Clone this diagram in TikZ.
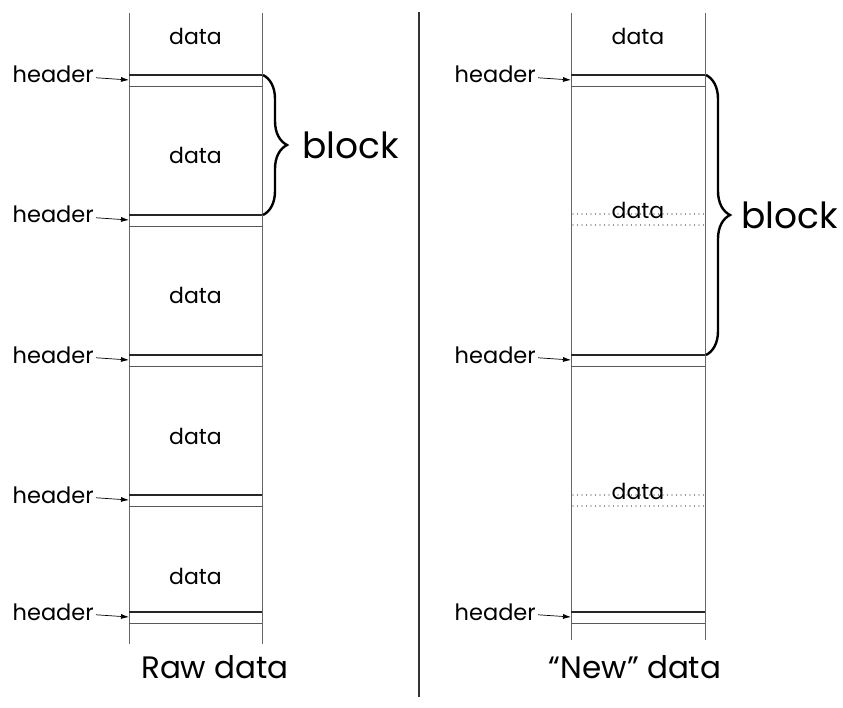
\documentclass[tikz,border=0pt]{standalone}
\usepackage{fontspec}
\setmainfont{Poppins}
\usetikzlibrary{decorations.pathreplacing,arrows.meta}
\begin{document}
\begin{tikzpicture}[x=1pt,y=-1pt,
  col/.style={draw=black!60, line width=0.9pt},
  hdrtop/.style={draw=black!85, line width=1.4pt},
  hdrbot/.style={draw=black!65, line width=0.9pt},
  dotl/.style={draw=black!85, line width=1.1pt, line cap=round, dash pattern=on 0pt off 4.5pt},
  hlbl/.style={font=\fontsize{22.5}{22.5}\selectfont, inner sep=0pt, anchor=base east},
  dlbl/.style={font=\fontsize{22}{22}\selectfont, inner sep=0pt, anchor=base},
  blklbl/.style={font=\fontsize{36}{36}\selectfont, inner sep=0pt},
  caplbl/.style={font=\fontsize{31}{31}\selectfont, inner sep=0pt},
  ptr/.style={-{Latex[length=8pt,width=5pt]}, line width=0.7pt},
  bracket/.style={decorate, decoration={brace, amplitude=24pt, aspect=0.5}, line width=2.4pt}]
\useasboundingbox (0,0) rectangle (843,708);

% ---------- left column ----------
\coordinate (LT) at (129,13);
\coordinate (LB) at (129,644);
\coordinate (RT) at (262,13);
\coordinate (RB) at (262,644);
\draw[col] (LT) -- (LB);
\draw[col] (RT) -- (RB);

\foreach \y/\n in {75/a,215/b,355/c,495/d,612/e}{
  \coordinate (la\n) at (129,\y);
  \coordinate (ra\n) at (262,\y);
  \coordinate (lb\n) at (129,\y+11.5);
  \coordinate (rb\n) at (262,\y+11.5);
  \coordinate (tip\n) at (129,\y+5);
  \draw[hdrtop] (la\n) -- (ra\n);
  \draw[hdrbot] (lb\n) -- (rb\n);
  \node[hlbl] (h\n) at (94,\y+8) {header};
  \draw[ptr] ([xshift=2pt,yshift=-3pt]h\n.east) -- (tip\n);
}

\node[dlbl] (d0) at (195.5,45) {data};
\node[dlbl] (d1) at (195.5,164) {data};
\node[dlbl] (d2) at (195.5,304) {data};
\node[dlbl] (d3) at (195.5,444) {data};
\node[dlbl] (d4) at (195.5,584) {data};

\coordinate (bra1) at (263,75);
\coordinate (brb1) at (263,215);
\draw[bracket] (bra1) -- (brb1);
\node[blklbl, anchor=west] (blk1) at (302,145) {block};

% ---------- divider ----------
\coordinate (DT) at (419,12);
\coordinate (DB) at (419,697);
\draw[draw=black!80, line width=1.1pt] (DT) -- (DB);

% ---------- right column ----------
\coordinate (LT2) at (571,13);
\coordinate (LB2) at (571,640);
\coordinate (RT2) at (705,13);
\coordinate (RB2) at (705,640);
\draw[col] (LT2) -- (LB2);
\draw[col] (RT2) -- (RB2);

\foreach \y/\n in {75/a,355/c,612/e}{
  \coordinate (La\n) at (571,\y);
  \coordinate (Ra\n) at (705,\y);
  \coordinate (Lb\n) at (571,\y+11.5);
  \coordinate (Rb\n) at (705,\y+11.5);
  \coordinate (Tip\n) at (571,\y+5);
  \draw[hdrtop] (La\n) -- (Ra\n);
  \draw[hdrbot] (Lb\n) -- (Rb\n);
  \node[hlbl] (H\n) at (536,\y+8) {header};
  \draw[ptr] ([xshift=2pt,yshift=-3pt]H\n.east) -- (Tip\n);
}

\foreach \y/\n in {214/b,495/d}{
  \coordinate (Ld\n) at (573,\y);
  \coordinate (Rd\n) at (705,\y);
  \coordinate (Le\n) at (573,\y+11);
  \coordinate (Re\n) at (705,\y+11);
  \draw[dotl] (Ld\n) -- (Rd\n);
  \draw[dotl] (Le\n) -- (Re\n);
}

\node[dlbl] (D0) at (638,45) {data};
\node[dlbl] (D1) at (638,219) {data};
\node[dlbl] (D2) at (638,499) {data};

\coordinate (bra2) at (706,75);
\coordinate (brb2) at (706,355);
\draw[bracket] (bra2) -- (brb2);
\node[blklbl, anchor=west] (blk2) at (741,215) {block};

% ---------- captions ----------
\node[caplbl, anchor=base] (cap1) at (215,678) {Raw data};
\node[caplbl, anchor=base] (cap2) at (635,678) {“New” data};
\end{tikzpicture}
\end{document}
